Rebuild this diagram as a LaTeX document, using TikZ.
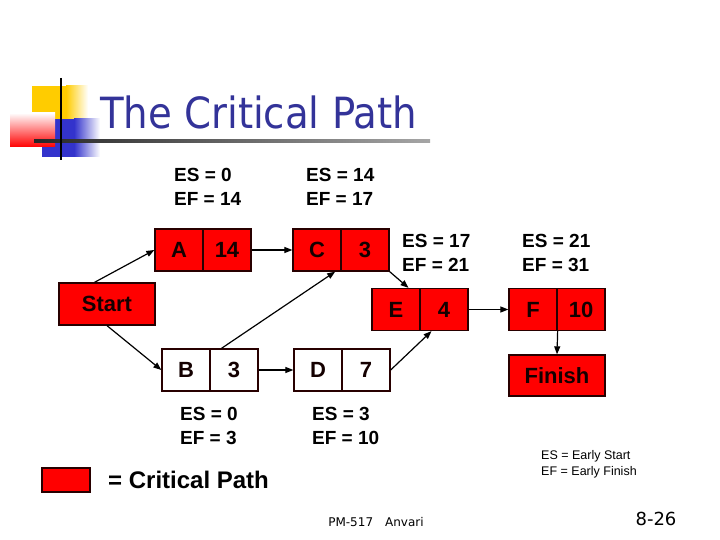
\documentclass[tikz,border=0pt]{standalone}
\usepackage{fontspec}
\setmainfont{Liberation Sans}
\newfontfamily\titlefont{DejaVu Sans Condensed}
\newfontfamily\footfont{DejaVu Sans}
\usetikzlibrary{arrows.meta}

\definecolor{critred}{RGB}{255,0,0}
\definecolor{titleblue}{RGB}{51,51,153}
\definecolor{decoyellow}{RGB}{255,204,0}
\definecolor{decoblue}{RGB}{51,51,204}
\definecolor{edgedark}{RGB}{40,0,0}
\definecolor{celltext}{RGB}{20,0,0}

\tikzset{
  cell/.style={draw=edgedark, line width=1.3pt, minimum width=48pt, text=celltext,
    minimum height=42pt, inner sep=0pt, font=\fontsize{22}{26}\selectfont\bfseries},
  crit/.style={cell, fill=critred},
  free/.style={cell, fill=white},
  wide/.style={minimum width=96pt},
  estext/.style={anchor=west, align=left, inner sep=0pt, text=black,
    font=\fontsize{19}{24}\selectfont\bfseries},
  link/.style={-{Triangle[length=8pt,width=6pt]}, line width=1.2pt},
}

\begin{document}
\begin{tikzpicture}[x=1pt,y=-1pt]
      \useasboundingbox (0,0) rectangle (720,540);
      % title decoration
      \fill[decoyellow] (32,86) rectangle (66,120);
      \shade[left color=decoyellow, right color=white] (66,86) rectangle (88,120);
      \fill[decoblue] (42,119) rectangle (74,157);
      \shade[left color=decoblue, right color=white] (74,119) rectangle (100,157);
      \shade[shading angle=135, top color=white, bottom color=critred] (10,113) rectangle (55,147);
      \shade[left color=black!85, right color=black!35] (34,139.8) rectangle (430,142.2);
      \draw[line width=2pt] (61,78) -- (61,160);
      \node[anchor=base west, inner sep=0pt, text=titleblue,
        font=\titlefont\fontsize{43}{48}\selectfont] (title) at (100,129) {The Critical Path};
      % activities
      \node[crit, wide] (Start) at (107,304) {Start};
      \node[crit] (Al) at (179,250) {A};
      \node[crit] (Ad) at (227,250) {14};
      \node[crit] (Cl) at (317,250) {C};
      \node[crit] (Cd) at (365,250) {3};
      \node[free] (Bl) at (186,370) {B};
      \node[free] (Bd) at (234,370) {3};
      \node[free] (Dl) at (318,370) {D};
      \node[free] (Dd) at (366,370) {7};
      \node[crit] (El) at (396,309.5) {E};
      \node[crit] (Ed) at (444,309.5) {4};
      \node[crit] (Fl) at (533,309.5) {F};
      \node[crit] (Fd) at (581,309.5) {10};
      \node[crit, wide, minimum height=41pt] (Finish) at (557,375.5) {Finish};
      % connectors
      \draw[link] (Start.120) -- (Al.west);
      \draw[link] (Start.south) -- (Bl.west);
      \draw[link] (Ad.east) -- (Cl.west);
      \draw[link] (Bd.120) -- (Cl.-50);
      \draw[link] (Bd.east) -- (Dl.west);
      \draw[link] (Cd.south east) -- (El.60);
      \draw[link] (Dd.east) -- (Ed.-120);
      \draw[link] (Ed.east) -- (Fl.west);
      \draw[link] (Fl.south east) -- (Finish.north);
      % early start / early finish
      \node[estext] (esA) at (174,187) {ES = 0\\EF = 14};
      \node[estext] (esC) at (306,187) {ES = 14\\EF = 17};
      \node[estext] (esE) at (402,253) {ES = 17\\EF = 21};
      \node[estext] (esF) at (522,253) {ES = 21\\EF = 31};
      \node[estext] (esB) at (180,426) {ES = 0\\EF = 3};
      \node[estext] (esD) at (312,426) {ES = 3\\EF = 10};
      % legend
      \node[draw=edgedark, line width=1.3pt, fill=critred, minimum width=48pt,
        minimum height=24pt, inner sep=0pt] (key) at (66,480) {};
      \node[anchor=west, inner sep=0pt, font=\fontsize{24}{28}\selectfont\bfseries]
        (keytext) at (108,480) {= Critical Path};
      \node[anchor=west, align=left, inner sep=0pt, font=\fontsize{12.5}{16}\selectfont]
        (abbr) at (541,464) {ES = Early Start\\EF = Early Finish};
      % footer
      \node[inner sep=0pt, font=\footfont\fontsize{12}{14}\selectfont] (foot) at (376,522) {PM-517\quad Anvari};
      \node[inner sep=0pt, font=\footfont\fontsize{18}{20}\selectfont] (page) at (656,519) {8-26};
    \end{tikzpicture}
\end{document}
